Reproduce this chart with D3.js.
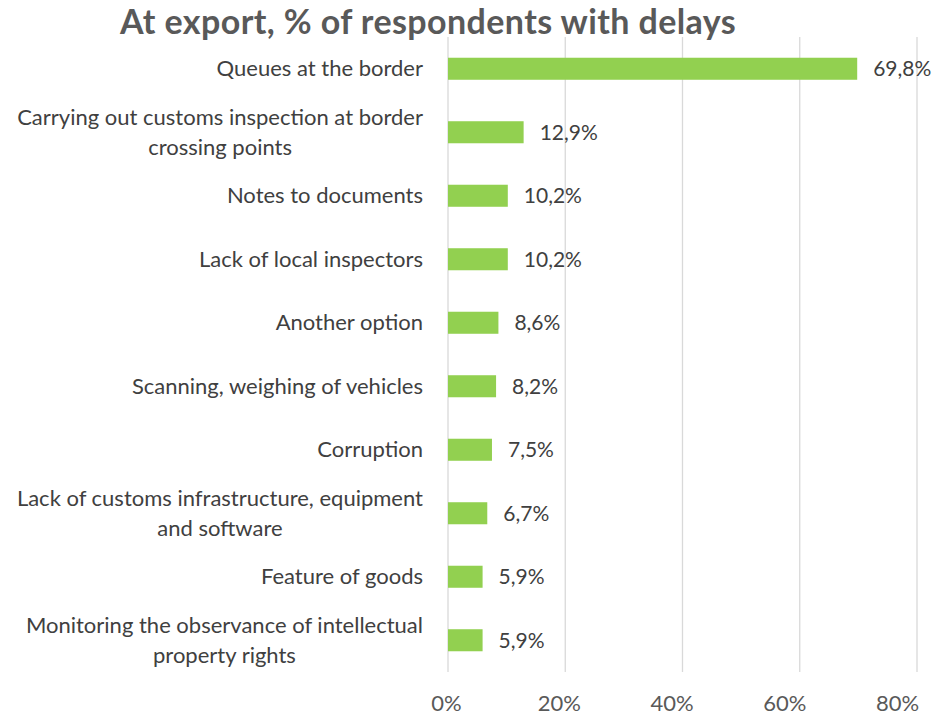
<!DOCTYPE html>
<html>
<head>
<meta charset="utf-8">
<script src="https://cdn.jsdelivr.net/npm/d3@7"></script>
<style>
  html, body { margin: 0; padding: 0; background: #fff; }
  svg text { font-family: Lato, "Open Sans", sans-serif; }
</style>
</head>
<body>
<svg id="chart" width="941" height="717"></svg>
<script>
// Delay causes at export, top to bottom
const categories = [
  "Queues at the border",
  "Carrying out customs inspection at border|crossing points",
  "Notes to documents",
  "Lack of local inspectors",
  "Another option",
  "Scanning, weighing of vehicles",
  "Corruption",
  "Lack of customs infrastructure, equipment|and software",
  "Feature of goods",
  "Monitoring the observance of intellectual|property rights"
];
const values = [69.8, 12.9, 10.2, 10.2, 8.6, 8.2, 7.5, 6.7, 5.9, 5.9];
const valueLabels = ["69,8%", "12,9%", "10,2%", "10,2%", "8,6%", "8,2%", "7,5%", "6,7%", "5,9%", "5,9%"];
const tickValues = [0, 20, 40, 60, 80];
const tickLabels = ["0%", "20%", "40%", "60%", "80%"];
const titleText = "At export, % of respondents with delays";

const svg = d3.select("#chart");
const plot = { left: 448, right: 917, top: 37, bottom: 672 };

const x = d3.scaleLinear().domain([0, 80]).range([plot.left, plot.right]);
// tick labels sit on a slightly narrower span so the last one stays inside the frame
const xLabel = d3.scaleLinear().domain([0, 80]).range([446, 897]);
const y = d3.scaleBand().domain(d3.range(categories.length))
  .range([plot.top, plot.bottom]).paddingInner(0.653).paddingOuter(0.3265);

// Title
svg.append("text")
  .attr("x", 428).attr("y", 34)
  .attr("text-anchor", "middle")
  .attr("font-size", 34).attr("font-weight", 700)
  .attr("letter-spacing", 0.4)
  .attr("fill", "#595959")
  .text(titleText);

// Vertical gridlines
svg.append("g").selectAll("line").data(tickValues).join("line")
  .attr("x1", d => x(d)).attr("x2", d => x(d))
  .attr("y1", plot.top).attr("y2", plot.bottom)
  .attr("stroke", "#d9d9d9").attr("stroke-width", 1.3);

// X axis tick labels
const xAxis = d3.axisBottom(xLabel).tickValues(tickValues)
  .tickFormat((d, i) => tickLabels[i]).tickSize(0).tickPadding(0);
const gx = svg.append("g").attr("transform", `translate(0,${plot.bottom})`).call(xAxis);
gx.select(".domain").remove();
gx.selectAll("text")
  .attr("y", 31).attr("dy", "0.35em")
  .attr("font-size", 22).attr("fill", "#595959")
  .style("font-family", "Lato, 'Open Sans', sans-serif");

// Bars
svg.append("g").selectAll("rect").data(values).join("rect")
  .attr("x", x(0))
  .attr("y", (d, i) => y(i))
  .attr("width", d => x(d) - x(0))
  .attr("height", y.bandwidth())
  .attr("fill", "#92d050");

// Value labels
svg.append("g").selectAll("text").data(values).join("text")
  .attr("x", d => x(d) + 16)
  .attr("y", (d, i) => y(i) + y.bandwidth() / 2)
  .attr("dy", "0.35em")
  .attr("font-size", 21).attr("fill", "#404040")
  .text((d, i) => valueLabels[i]);

// Category labels, wrapped lines centred as a block right-aligned to the axis
const labelRight = 423;
const lineGap = 30;
const catG = svg.append("g");
categories.forEach((c, i) => {
  const lines = c.split("|");
  const cy = y(i) + y.bandwidth() / 2;
  const t = catG.append("text")
    .attr("font-size", 22).attr("fill", "#404040")
    .attr("text-anchor", "middle");
  const spans = lines.map((ln, k) => t.append("tspan")
    .attr("y", cy + (k - (lines.length - 1) / 2) * lineGap)
    .attr("dy", "0.35em")
    .text(ln));
  const w = d3.max(spans, s => s.node().getComputedTextLength());
  spans.forEach(s => s.attr("x", labelRight - w / 2));
});
</script>
</body>
</html>
